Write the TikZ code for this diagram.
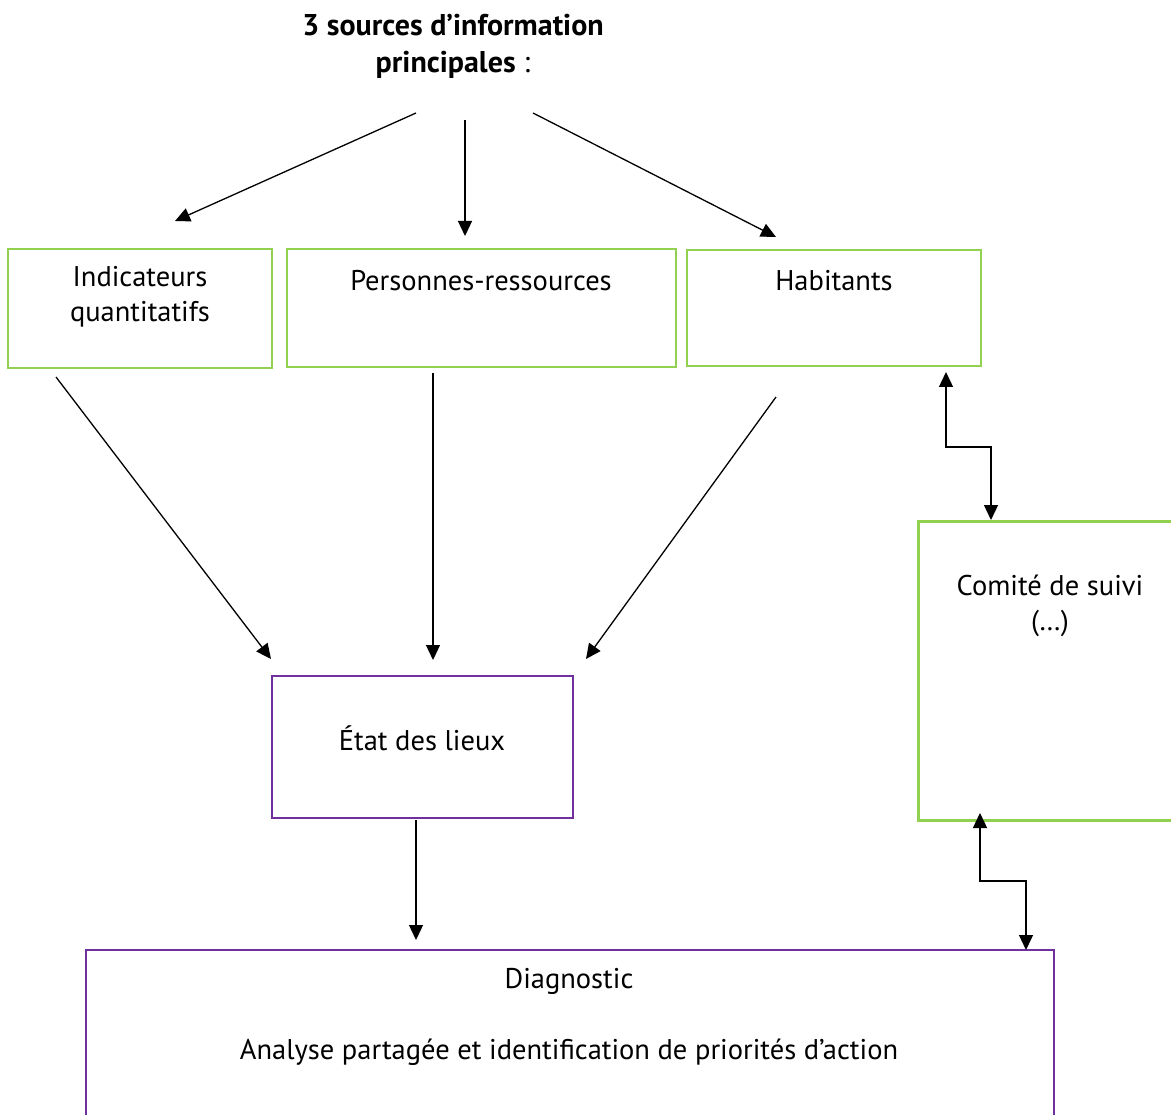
\documentclass[tikz,border=0pt]{standalone}
\usepackage{fontspec}
\setmainfont{PT Sans}
\usetikzlibrary{arrows.meta}
\definecolor{lgreen}{RGB}{146,208,80}
\definecolor{wpurple}{RGB}{112,48,160}
\begin{document}
\begin{tikzpicture}[x=1pt,y=-1pt,
  gbox/.style={draw=lgreen,line width=1.5pt,rectangle,inner sep=0pt},
  pbox/.style={draw=wpurple,line width=2pt,rectangle,inner sep=0pt},
  lbl/.style={font=\fontsize{28.5}{35}\selectfont,align=center,inner sep=0pt},
  arr/.style={line width=1.3pt,-{Triangle[length=15pt,width=14pt]}},
  darr/.style={line width=1.3pt,{Triangle[length=15pt,width=14pt]}-{Triangle[length=15pt,width=14pt]}}]
\useasboundingbox (0,0) rectangle (1171,1115);
\begin{scope}
\clip (0,0) rectangle (1171,1115);
% boxes
\draw[gbox] (8,249) rectangle (272,368);
\draw[gbox] (287,249) rectangle (676,367);
\draw[gbox] (687,250) rectangle (981,366);
\draw[draw=lgreen,line width=3pt] (918,521) rectangle (1185,820);
\draw[pbox] (272,676) rectangle (573,818);
\draw[pbox] (86,950) rectangle (1054,1130);
\end{scope}
% labels
\node[lbl,font=\fontsize{30}{37}\selectfont\bfseries] (title) at (453,46) {3 sources d’information\\principales\mdseries\ :};
\node[lbl] (ind) at (140,297) {Indicateurs\\quantitatifs};
\node[lbl] (pers) at (481,281) {Personnes-ressources};
\node[lbl] (hab) at (834,281) {Habitants};
\node[lbl] (com) at (1050,606) {Comité de suivi\\(…)};
\node[lbl] (etat) at (422,738) {État des lieux};
\node[lbl] (diag) at (569,981) {Diagnostic};
\node[lbl] (ana) at (569,1052) {Analyse partagée et identification de priorités d’action};
% connector end points
\coordinate (t1) at (416,113); \coordinate (h1) at (175,221);
\coordinate (t2) at (465,120); \coordinate (h2) at (465,236);
\coordinate (t3) at (533,113); \coordinate (h3) at (776,237);
\coordinate (s1) at (56,377);  \coordinate (e1) at (271,659);
\coordinate (s2) at (433,373); \coordinate (e2) at (433,660);
\coordinate (s3) at (776,397); \coordinate (e3) at (586,659);
\coordinate (s4) at (416,820); \coordinate (e4) at (416,940);
\coordinate (u1) at (946,372); \coordinate (d1) at (991,520);
\coordinate (u2) at (980,813); \coordinate (d2) at (1026,950);
\draw[arr] (t1) -- (h1);
\draw[arr] (t2) -- (h2);
\draw[arr] (t3) -- (h3);
\draw[arr] (s1) -- (e1);
\draw[arr] (s2) -- (e2);
\draw[arr] (s3) -- (e3);
\draw[arr] (s4) -- (e4);
\draw[darr] (u1) -- (946,447) -- (991,447) -- (d1);
\draw[darr] (u2) -- (980,881) -- (1026,881) -- (d2);
\end{tikzpicture}
\end{document}
